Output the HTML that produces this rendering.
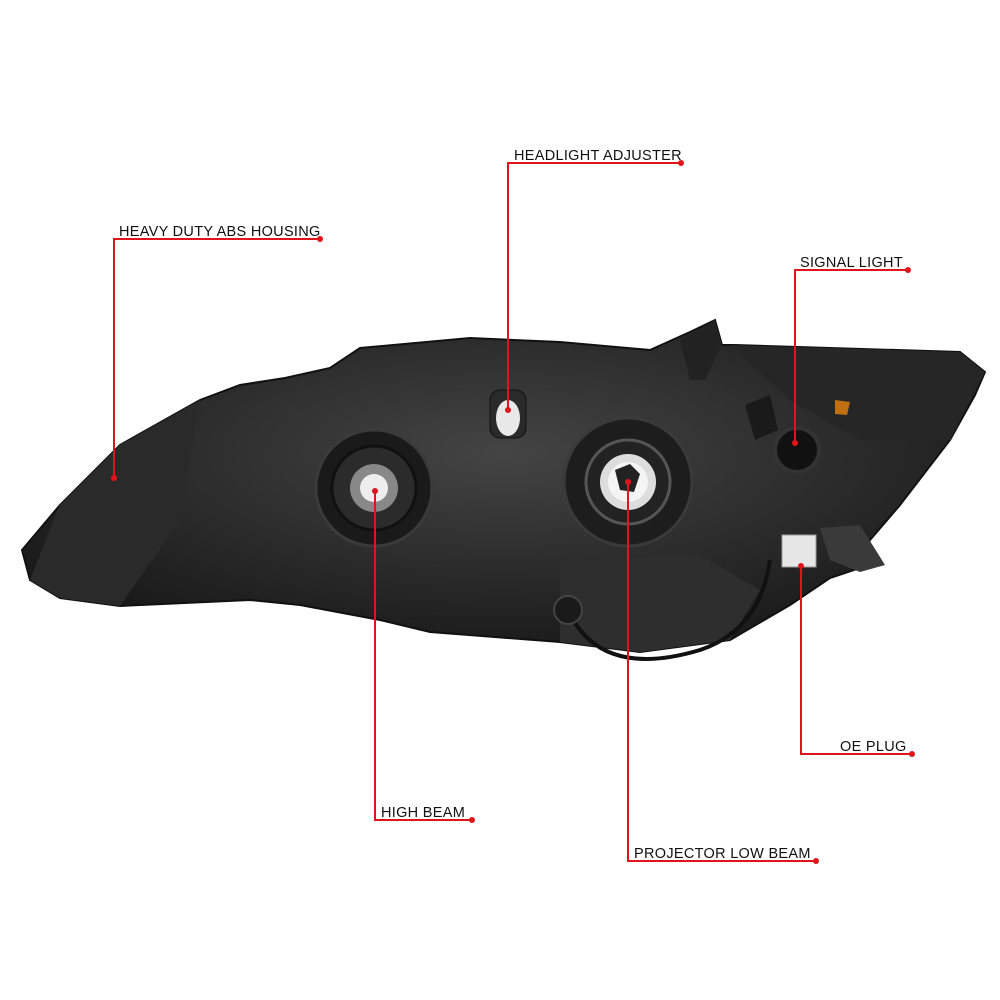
<!DOCTYPE html>
<html><head><style>
html,body{margin:0;padding:0;background:#fff;width:1000px;height:1000px;overflow:hidden}
svg{display:block}
text{font-family:"Liberation Sans",sans-serif;font-size:14.5px;fill:#111;letter-spacing:0.3px}
</style></head><body>
<svg width="1000" height="1000" viewBox="0 0 1000 1000">
<defs>
<radialGradient id="g1" cx="50%" cy="40%" r="60%"><stop offset="0" stop-color="#444"/><stop offset="1" stop-color="#1a1a1a"/></radialGradient>
</defs>
<path d="M22,550 L60,505 L120,445 L200,400 L240,385 L285,378 L330,368 L360,348 L470,338 L560,342 L650,350 L690,332 L715,320 L722,345 L735,345 L960,352 L985,372 L975,395 L950,440 L900,505 L870,540 L860,568 L830,578 L790,605 L730,640 L640,652 L560,642 L430,632 L380,620 L300,605 L250,600 L120,606 L60,598 L30,580 Z" fill="url(#g1)" stroke="#111" stroke-width="2"/>
<path d="M560,560 L700,555 L760,590 L730,640 L640,652 L560,642 Z" fill="#2e2e2e"/>
<path d="M730,345 L960,352 L985,372 L950,440 L860,440 L790,400 Z" fill="#262626"/>
<path d="M60,505 L120,445 L200,400 L180,520 L120,606 L60,598 L30,580 Z" fill="#2a2a2a"/>
<circle cx="374" cy="488" r="58" fill="#1a1a1a" stroke="#3a3a3a" stroke-width="3"/>
<circle cx="374" cy="488" r="42" fill="#2b2b2b" stroke="#111" stroke-width="3"/>
<circle cx="374" cy="488" r="24" fill="#888"/>
<circle cx="374" cy="488" r="14" fill="#eee"/>
<circle cx="628" cy="482" r="64" fill="#1d1d1d" stroke="#3a3a3a" stroke-width="3"/>
<circle cx="628" cy="482" r="42" fill="#222" stroke="#555" stroke-width="3"/>
<circle cx="628" cy="482" r="28" fill="#ddd"/>
<circle cx="628" cy="482" r="20" fill="#f4f4f4"/>
<path d="M615,470 L630,464 L640,474 L634,492 L620,490 Z" fill="#222"/>
<rect x="490" y="390" width="36" height="48" rx="10" fill="#2a2a2a" stroke="#111"/>
<ellipse cx="508" cy="418" rx="12" ry="18" fill="#e8e8e8"/>
<circle cx="797" cy="450" r="22" fill="#111" stroke="#333" stroke-width="4"/>
<path d="M745,405 L770,395 L778,430 L755,440 Z" fill="#1a1a1a"/>
<path d="M835,400 L850,402 L847,415 L835,414 Z" fill="#c07010"/>
<rect x="782" y="535" width="34" height="32" fill="#e6e6e6" stroke="#999"/>
<path d="M820,528 L860,525 L885,565 L860,572 L830,560 Z" fill="#3a3a3a"/>
<path d="M568,610 Q600,680 700,650 Q760,630 770,560" fill="none" stroke="#111" stroke-width="4"/>
<circle cx="568" cy="610" r="14" fill="#1a1a1a" stroke="#444" stroke-width="2"/>
<path d="M680,340 L715,320 L722,345 L705,380 L690,380 Z" fill="#222"/>
<g stroke="#e0141b" stroke-width="2" fill="none">
<polyline points="320,239 114,239 114,478"/>
<polyline points="681,163 508,163 508,410"/>
<polyline points="908,270 795,270 795,443"/>
<polyline points="912,754 801,754 801,566"/>
<polyline points="472,820 375,820 375,491"/>
<polyline points="816,861 628,861 628,482"/>
</g>
<g fill="#e0141b">
<circle cx="320" cy="239" r="3"/><circle cx="114" cy="478" r="3"/>
<circle cx="681" cy="163" r="3"/><circle cx="508" cy="410" r="3"/>
<circle cx="908" cy="270" r="3"/><circle cx="795" cy="443" r="3"/>
<circle cx="912" cy="754" r="3"/><circle cx="801" cy="566" r="3"/>
<circle cx="472" cy="820" r="3"/><circle cx="375" cy="491" r="3"/>
<circle cx="816" cy="861" r="3"/><circle cx="628" cy="482" r="3"/>
</g>
<text x="119" y="236">HEAVY DUTY ABS HOUSING</text>
<text x="514" y="160">HEADLIGHT ADJUSTER</text>
<text x="800" y="267">SIGNAL LIGHT</text>
<text x="840" y="751">OE PLUG</text>
<text x="381" y="817">HIGH BEAM</text>
<text x="634" y="858">PROJECTOR LOW BEAM</text>
</svg>
</body></html>
